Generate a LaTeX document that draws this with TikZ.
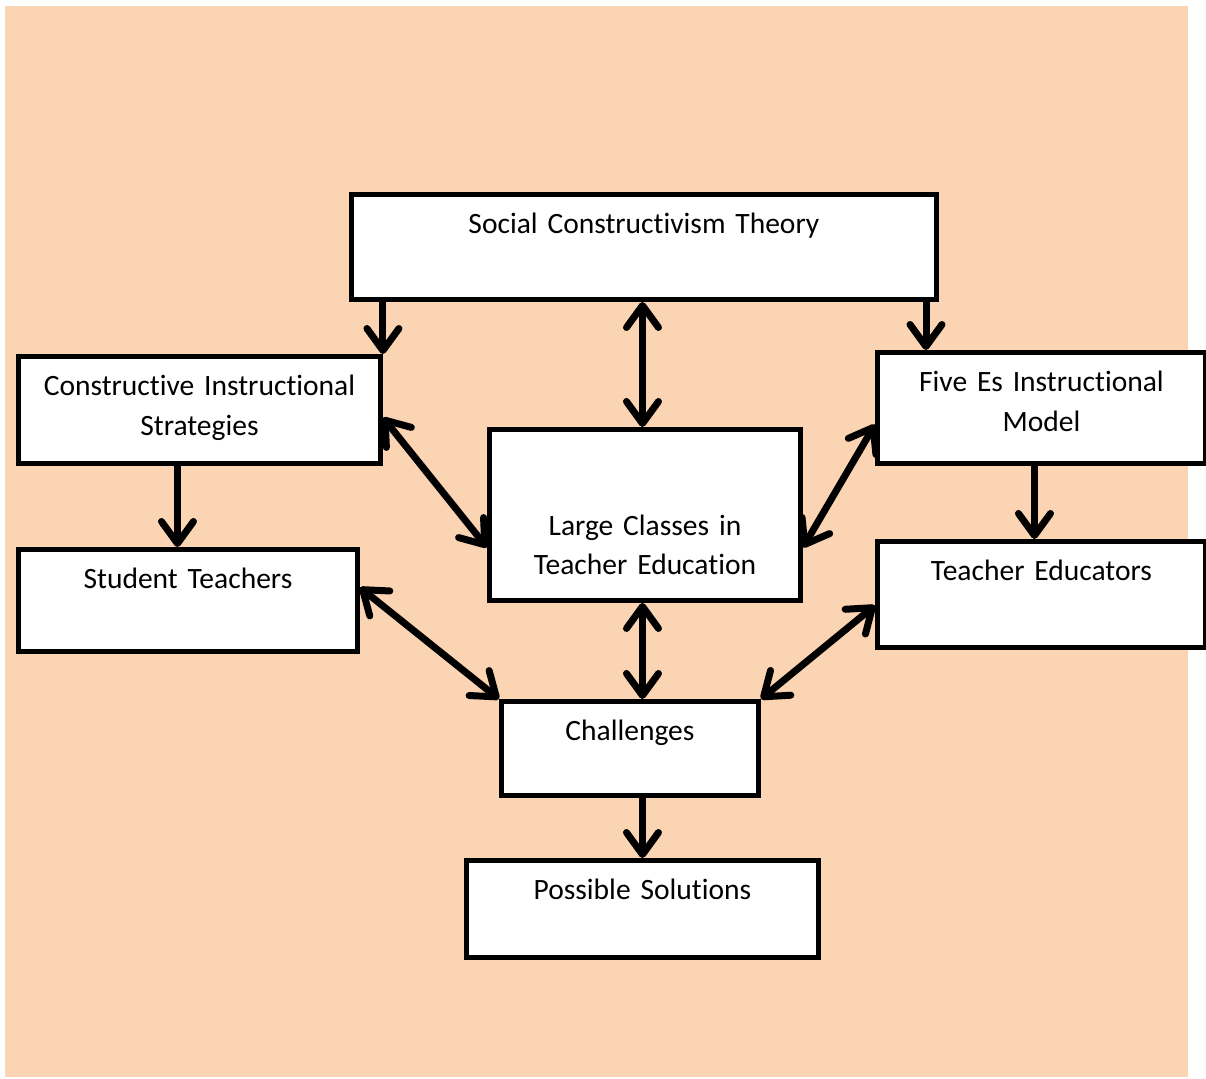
\documentclass[tikz,border=0pt]{standalone}
\usepackage{fontspec}
\setmainfont{Carlito}[Ligatures=NoCommon, WordSpace=0.8]
\usetikzlibrary{arrows.meta,positioning,calc}
\definecolor{peach}{RGB}{251,212,180}

\begin{document}
\begin{tikzpicture}[
  x=0.02cm, y=-0.02cm,
  blk/.style={rectangle, draw, line width=0.1cm, fill=white,
              anchor=north west, inner sep=0pt, align=center,
              font=\fontsize{16.8}{21}\selectfont},
  arr/.style={draw, line width=0.14cm, line cap=round, line join=round,
              -{Straight Barb[length=0.44cm,width=0.64cm,round]}},
  dbl/.style={arr, {Straight Barb[length=0.44cm,width=0.64cm,round]}-{Straight Barb[length=0.44cm,width=0.64cm,round]}}
]
\useasboundingbox (0,0) rectangle (1206,1078);
\fill[peach] (5,6) rectangle (1188,1077);

\node[blk, text width=11.70cm, text height=0.78cm, text depth=1.32cm] (social) at (349,192)
  {Social Constructivism Theory};
\node[blk, text width=7.24cm, text height=0.78cm, text depth=1.36cm] (constr) at (16,354)
  {Constructive Instructional\\[2pt]Strategies};
\node[blk, text width=6.56cm, text height=0.78cm, text depth=1.44cm] (five) at (875,350)
  {Five Es Instructional\\[2pt]Model};
\node[blk, text width=6.22cm, text height=2.12cm, text depth=1.30cm] (large) at (487,427)
  {Large Classes in\\[1pt]Teacher Education};
\node[blk, text width=6.78cm, text height=0.78cm, text depth=1.26cm] (student) at (16,547)
  {Student Teachers};
\node[blk, text width=6.56cm, text height=0.78cm, text depth=1.34cm] (teached) at (875,539)
  {Teacher Educators};
\node[blk, text width=5.14cm, text height=0.78cm, text depth=1.10cm] (chall) at (499,699)
  {Challenges};
\node[blk, text width=7.04cm, text height=0.78cm, text depth=1.16cm] (sol) at (464,858)
  {Possible Solutions};

\draw[arr] (constr.north east |- social.south) -- (constr.north east);
\draw[arr] ([xshift=1.02cm]five.north west |- social.south) -- ([xshift=1.02cm]five.north west);
\draw[dbl] ([xshift=-0.05cm]large.north |- social.south) -- ([xshift=-0.05cm]large.north);
\draw[dbl] ([yshift=-0.15cm]constr.east) -- ([yshift=-0.65cm]large.west);
\draw[dbl] ([yshift=-0.33cm]five.west) -- ([yshift=-0.65cm]large.east);
\draw[arr] ([xshift=-0.44cm]constr.south) -- ([xshift=-0.44cm]constr.south |- student.north);
\draw[arr] ([xshift=-0.14cm]five.south) -- ([xshift=-0.14cm]five.south |- teached.north);
\draw[dbl] ([yshift=0.26cm]student.east) -- (chall.north west);
\draw[dbl] ([xshift=-0.05cm]large.south) -- ([xshift=-0.05cm]large.south |- chall.north);
\draw[dbl] ([yshift=-0.22cm]teached.west) -- (chall.north east);
\draw[arr] (sol.north |- chall.south) -- (sol.north);
\end{tikzpicture}
\end{document}
